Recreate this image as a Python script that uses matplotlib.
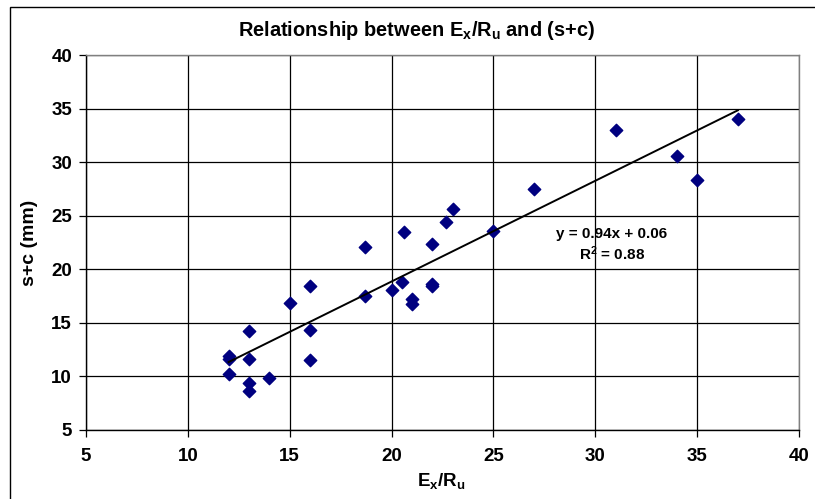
import matplotlib
matplotlib.use("Agg")
import matplotlib.pyplot as plt
import numpy as np
from matplotlib.patches import Rectangle

plt.rcParams['font.family'] = ['Liberation Sans', 'DejaVu Sans']
plt.rcParams['mathtext.fontset'] = 'custom'
plt.rcParams['mathtext.rm'] = 'Liberation Sans:bold'
plt.rcParams['mathtext.it'] = 'Liberation Sans:bold'
plt.rcParams['mathtext.bf'] = 'Liberation Sans:bold'

ex_ru = [12, 12, 12, 13, 13, 13, 13, 14, 15, 16, 16, 16, 18.7, 18.7, 20,
         20.5, 20.6, 21, 21, 22, 22, 22, 22.65, 23, 25, 27, 31, 34, 35, 37]
s_c = [11.9, 11.6, 10.25, 14.2, 11.6, 9.37, 8.66, 9.9, 16.85, 18.4, 14.35, 11.5,
       22.1, 17.5, 18.05, 18.8, 23.45, 17.25, 16.76, 22.4, 18.6, 18.4, 24.4,
       25.65, 23.6, 27.5, 33.0, 30.6, 28.3, 34.0]
slope = 0.94
intercept = 0.06
r2 = 0.88
xticks = [5, 10, 15, 20, 25, 30, 35, 40]
yticks = [5, 10, 15, 20, 25, 30, 35, 40]

fig = plt.figure(figsize=(8.15, 4.99), dpi=100)
W, H = 815, 499
ax = fig.add_axes([86 / W, 1 - 430 / H, (799 - 86) / W, (430 - 55) / H])

# outer chart border
fig.patches.append(Rectangle((10 / W, 0 - 0.01), 1.0, 1 - 7 / H + 0.01,
                             transform=fig.transFigure, fill=False,
                             edgecolor='black', linewidth=1.0))

ax.set_xlim(5, 40)
ax.set_ylim(5, 40)
ax.set_xticks(xticks)
ax.set_yticks(yticks)
ax.grid(True, color='black', linewidth=0.9)
ax.set_axisbelow(True)

for side in ['top', 'right']:
    ax.spines[side].set_color('#808080')
    ax.spines[side].set_linewidth(1.0)
for side in ['left', 'bottom']:
    ax.spines[side].set_color('black')
    ax.spines[side].set_linewidth(1.0)

ax.tick_params(axis='both', direction='out', length=5, width=0.9,
               labelsize=13.5, pad=5)
for lbl in ax.get_xticklabels() + ax.get_yticklabels():
    lbl.set_fontweight('bold')
ax.tick_params(axis='x', pad=8)

ax.scatter(ex_ru, s_c, marker='D', s=40, color='#000080', zorder=3)

xl = np.array([min(ex_ru), max(ex_ru)])
ax.plot(xl, slope * xl + intercept, color='black', linewidth=1.4, zorder=4)

ax.text(30.8, 22.25, f"y = {slope:.2f}x + {intercept:.2f}\nR$^2$ = {r2:.2f}",
        ha='center', va='center', fontsize=11, fontweight='bold',
        linespacing=1.25)

fig.text(417 / W, 1 - 30 / H,
         r"Relationship between E$_\mathrm{x}$/R$_\mathrm{u}$ and (s+c)",
         ha='center', va='center', fontsize=14.4, fontweight='bold')
fig.text(441 / W, 1 - 481 / H, r"E$_\mathrm{x}$/R$_\mathrm{u}$",
         ha='center', va='center', fontsize=13.5, fontweight='bold')
fig.text(30 / W, 1 - 243 / H, "s+c (mm)", rotation=90,
         ha='center', va='center', fontsize=14, fontweight='bold')

fig.savefig("out.png", dpi=100)
